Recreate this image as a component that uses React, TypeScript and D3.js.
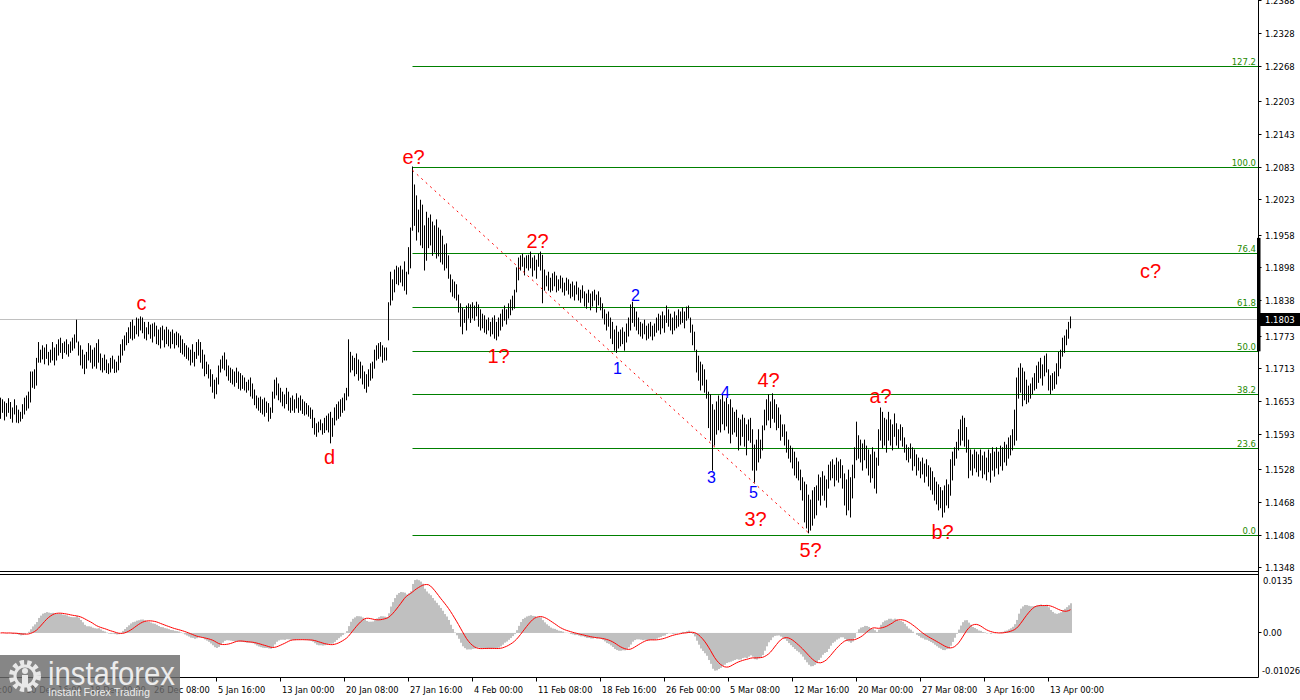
import React, { useEffect } from "react";
import * as d3 from "d3";

// Prices are stored as pips above 1.1000 (e.g. 808 -> 1.1808), one entry per H4 bar.
const PIP_BASE = 1.1;
const highPips = [
  659,656,652,649,658,651,641,656,645,637,
  633,647,659,663,670,707,707,711,732,761,
  747,755,751,757,743,747,761,751,757,766,
  769,759,762,766,757,762,769,775,802,762,
  755,747,738,743,759,755,747,751,759,766,
  740,732,738,729,722,732,736,729,725,736,
  757,766,773,779,788,798,802,791,806,804,
  808,806,798,788,798,793,795,797,791,784,
  788,791,784,789,784,780,784,777,780,777,
  773,766,759,755,751,747,757,743,761,766,
  761,747,738,725,720,711,702,692,696,718,
  729,736,742,729,718,714,711,707,714,707,
  704,700,696,688,692,696,685,674,663,659,
  661,656,659,652,649,641,670,692,696,685,
  677,670,665,677,670,659,663,656,667,659,
  663,656,652,649,645,641,637,622,612,615,
  619,612,622,626,630,633,622,641,647,652,
  656,659,667,677,766,743,736,732,740,729,
  725,718,707,702,711,722,725,747,755,759,
  761,755,751,751,834,890,876,894,901,898,
  901,894,909,890,935,971,1083,1050,1030,1004,
  1022,1013,975,1000,989,995,982,975,986,971,
  967,956,940,942,920,885,876,872,867,848,
  832,824,821,828,832,830,834,828,835,830,
  821,813,810,802,806,798,806,810,798,806,
  813,821,828,821,832,839,846,857,898,916,
  920,923,916,920,921,927,916,920,912,923,
  927,921,894,883,890,879,887,890,883,876,
  883,879,870,879,876,868,872,865,872,861,
  857,865,854,850,857,850,854,857,848,854,
  843,832,821,813,817,806,798,784,791,780,
  784,788,780,795,806,830,835,824,817,806,
  798,795,802,791,795,798,791,795,806,813,
  810,817,810,828,821,813,806,817,810,821,
  817,824,817,826,828,806,793,780,747,736,
  725,720,711,692,670,665,647,637,652,663,
  656,665,652,659,647,656,641,633,637,622,
  619,628,622,610,619,622,601,573,582,601,
  582,608,637,656,665,652,667,656,647,641,
  628,610,610,597,582,571,567,560,549,542,
  527,513,505,500,481,472,489,495,498,518,
  513,524,516,509,536,542,546,536,549,542,
  546,535,520,509,527,513,536,568,615,590,
  582,575,582,571,564,555,568,560,549,601,
  641,633,622,619,633,619,610,630,612,601,
  610,605,586,573,568,575,568,564,555,549,
  542,549,538,546,535,531,524,513,505,500,
  495,489,498,509,500,546,560,568,578,601,
  619,626,622,605,582,564,555,564,560,555,
  564,553,560,549,564,557,568,560,568,560,
  571,568,578,573,586,590,601,637,696,714,
  722,714,707,692,681,685,696,704,718,725,
  732,720,736,740,711,700,704,707,722,743,
  747,769,773,784,798,808,
];
const lowPips = [
  622,633,619,626,633,622,615,630,615,614,
  617,622,630,637,641,652,679,677,683,725,
  725,731,722,732,720,725,729,720,729,738,
  743,732,743,740,736,743,747,751,762,738,
  720,714,704,714,729,725,714,718,714,725,
  711,707,711,706,704,707,714,706,707,711,
  725,738,747,757,761,769,766,769,777,773,
  784,779,769,766,777,769,762,773,759,757,
  751,766,753,759,755,751,759,751,757,753,
  743,740,736,732,729,720,725,718,732,738,
  725,714,700,704,696,681,670,659,667,685,
  707,714,711,700,692,688,685,681,688,677,
  674,677,674,670,674,663,659,647,641,637,
  633,630,626,633,617,622,633,659,665,656,
  652,645,641,649,637,633,637,633,641,633,
  637,631,628,630,626,622,605,593,589,597,
  601,593,596,601,597,577,589,610,619,622,
  626,633,637,656,663,707,711,700,704,692,
  696,685,677,670,681,692,696,714,729,732,
  736,725,729,729,766,830,839,854,869,867,
  872,865,857,850,887,898,967,976,949,964,
  940,935,894,912,935,940,921,927,916,920,
  909,905,894,898,879,854,846,843,839,817,
  791,777,798,784,806,798,806,802,810,791,
  784,788,780,777,784,773,777,769,766,773,
  784,791,802,795,806,812,821,824,854,876,
  894,901,885,898,894,898,883,894,879,901,
  894,834,857,865,857,854,857,865,854,857,
  861,854,848,857,850,843,846,839,850,839,
  835,843,828,824,835,821,828,839,817,830,
  821,806,795,784,791,769,759,747,743,751,
  755,759,747,762,773,784,798,791,784,777,
  773,769,777,766,769,773,766,773,780,784,
  777,788,780,798,791,784,777,784,788,791,
  795,798,788,802,806,780,757,747,707,692,
  674,683,670,659,605,582,527,573,593,601,
  597,612,601,608,595,577,593,597,589,564,
  573,589,571,555,582,578,527,505,527,542,
  549,564,601,610,619,605,622,615,601,605,
  582,589,573,560,549,542,531,518,513,509,
  491,472,432,421,412,417,426,439,445,472,
  463,481,472,459,494,509,513,498,509,505,
  513,494,463,445,454,441,476,513,546,549,
  542,527,546,531,518,505,513,494,485,536,
  582,568,573,560,582,573,564,589,573,568,
  582,571,560,546,542,549,527,535,518,527,
  513,520,505,516,498,491,483,472,465,454,
  458,441,450,463,458,481,509,536,549,564,
  573,582,571,560,513,527,518,531,524,516,
  527,513,520,509,524,505,527,516,531,520,
  535,527,542,536,549,555,564,573,582,659,
  670,645,656,649,652,659,667,674,677,688,
  696,683,700,707,674,667,674,677,685,700,
  714,736,743,757,769,788,
];

const lastPrice = 1.1803;
const priceTicks = [
  "1.2388","1.2328","1.2268","1.2203","1.2143","1.2083","1.2023","1.1958","1.1898",
  "1.1838","1.1773","1.1713","1.1653","1.1593","1.1528","1.1468","1.1408","1.1348",
];
const timeLabelBars = [-20, 12, 44, 76, 108, 140, 172, 204, 236, 268, 300, 332, 364, 396, 428, 460, 492, 524];
const timeLabelTexts = [
  "3 Dec 08:00","10 Dec 16:00","18 Dec 00:00","26 Dec 08:00","5 Jan 16:00","13 Jan 00:00",
  "20 Jan 08:00","27 Jan 16:00","4 Feb 00:00","11 Feb 08:00","18 Feb 16:00","26 Feb 00:00",
  "5 Mar 08:00","12 Mar 16:00","20 Mar 00:00","27 Mar 08:00","3 Apr 16:00","13 Apr 00:00",
];

// Fibonacci grid
const fibLow = 1.1408;
const fibHigh = 1.2083;
const fibStartBar = 206;
const fibLevels = [0, 23.6, 38.2, 50, 61.8, 76.4, 100, 127.2];
const fibLabels = ["0.0", "23.6", "38.2", "50.0", "61.8", "76.4", "100.0", "127.2"];

// dotted trend line e? -> 5?
const trendBars = [206, 404];
const trendPrices = [1.2077, 1.1412];

// wave labels: bar index, price, text
const redWaveBars = [70.5, 164.5, 206.5, 249, 268.5, 377.5, 384, 405, 440, 471, 575];
const redWavePrices = [1.1834, 1.1551, 1.2101, 1.1736, 1.1947, 1.1438, 1.1692, 1.1381, 1.1663, 1.1413, 1.1892];
const redWaveTexts = ["c", "d", "e?", "1?", "2?", "3?", "4?", "5?", "a?", "b?", "c?"];
const blueWaveBars = [308.5, 317.5, 355.5, 362.5, 376.5];
const blueWavePrices = [1.1714, 1.1848, 1.1513, 1.1669, 1.1486];
const blueWaveTexts = ["1", "2", "3", "4", "5"];

// thick marker on price scale
const scaleMarkPrices = [1.1953, 1.1745];

// MACD settings and window range
const macdFast = 8;
const macdSlow = 34;
const macdSignal = 9;
const macdTop = 0.0135;
const macdBottom = -0.01026;

const W = 1300;
const H = 700;
const AXIS_X = 1258.5;
const MAIN_BOTTOM = 571.5;
const SUB_TOP = 574.5;
const SUB_BOTTOM = 677.5;
const AXIS_FONT = "'DejaVu Sans', Verdana, sans-serif";
const LABEL_FONT = "'Liberation Sans', Arial, sans-serif";

function ema(arr: number[], n: number) {
  const k = 2 / (n + 1);
  const out: number[] = [];
  let prev = arr[0];
  arr.forEach((v, i) => {
    prev = i === 0 ? v : v * k + prev * (1 - k);
    out.push(prev);
  });
  return out;
}

export default function App() {
  useEffect(() => {
    document.body.style.margin = "0";
  }, []);

  const n = Math.min(highPips.length, lowPips.length);
  const highs = highPips.slice(0, n).map((v) => PIP_BASE + v / 10000);
  const lows = lowPips.slice(0, n).map((v) => PIP_BASE + v / 10000);
  const closes = highs.map((h, i) => (h + lows[i]) / 2);

  const eF = ema(closes, macdFast);
  const eS = ema(closes, macdSlow);
  const macd = eF.map((v, i) => v - eS[i]);
  const signal = macd.map((_, i) => {
    const s = Math.max(0, i - (macdSignal - 1));
    return d3.mean(macd.slice(s, i + 1)) as number;
  });

  const xs = d3.scaleLinear().domain([0, 535]).range([0.5, 1070.5]);
  const ys = d3.scaleLinear().domain([fibLow, fibHigh]).range([535, 167]);
  const ym = d3.scaleLinear().domain([macdBottom, macdTop]).range([677, 575]);

  const crisp = (v: number) => Math.round(v - 0.5) + 0.5;

  const trendLine = `M${xs(trendBars[0])},${ys(trendPrices[0])}L${xs(trendBars[1])},${ys(trendPrices[1])}`;

  const signalPath = d3
    .line<number>()
    .x((_, i) => xs(i))
    .y((d) => ym(d))(signal) as string;

  const lastY = crisp(ys(lastPrice));

  return (
    <svg
      width={W}
      height={H}
      viewBox={`0 0 ${W} ${H}`}
      style={{ position: "absolute", left: 0, top: 0, display: "block", background: "#fff" }}
    >
      <defs>
        <clipPath id="mainClip">
          <rect x={0} y={0} width={AXIS_X} height={MAIN_BOTTOM} />
        </clipPath>
        <clipPath id="subClip">
          <rect x={0} y={SUB_TOP + 0.5} width={AXIS_X} height={SUB_BOTTOM - SUB_TOP - 1} />
        </clipPath>
      </defs>
      <rect x={0} y={0} width={W} height={H} fill="#fff" />

      {/* main price panel */}
      <g clipPath="url(#mainClip)">
        <line x1={0} x2={AXIS_X} y1={lastY} y2={lastY} stroke="#c0c0c0" strokeWidth={1} />
        {fibLevels.map((lv, i) => {
          const p = fibLow + ((fibHigh - fibLow) * lv) / 100;
          const y = crisp(ys(p));
          return (
            <g key={"fib" + i}>
              <line x1={xs(fibStartBar)} x2={AXIS_X} y1={y} y2={y} stroke="#008000" strokeWidth={1} />
              <text x={1256} y={y - 2} textAnchor="end" fontFamily={AXIS_FONT} fontSize={8.5} fill="#1f8a00">
                {fibLabels[i]}
              </text>
            </g>
          );
        })}
        {highs.map((h, i) => (
          <line
            key={"b" + i}
            x1={xs(i)}
            x2={xs(i)}
            y1={ys(h) - 0.5}
            y2={ys(lows[i]) + 0.5}
            stroke="#000"
            strokeWidth={1}
          />
        ))}
        <path d={trendLine} stroke="#ff0000" strokeWidth={1} strokeDasharray="2,4" fill="none" />
        {redWaveTexts.map((t, i) => (
          <text
            key={"rw" + i}
            x={xs(redWaveBars[i])}
            y={ys(redWavePrices[i])}
            textAnchor="middle"
            dominantBaseline="central"
            fontFamily={LABEL_FONT}
            fontSize={20}
            fill="#ff0000"
          >
            {t}
          </text>
        ))}
        {blueWaveTexts.map((t, i) => (
          <text
            key={"bw" + i}
            x={xs(blueWaveBars[i])}
            y={ys(blueWavePrices[i])}
            textAnchor="middle"
            dominantBaseline="central"
            fontFamily={LABEL_FONT}
            fontSize={16}
            fill="#0000ff"
          >
            {t}
          </text>
        ))}
      </g>

      {/* MACD panel */}
      <g clipPath="url(#subClip)">
        {macd.map((v, i) => {
          const y0 = ym(0);
          const y1 = ym(v);
          return (
            <rect
              key={"m" + i}
              x={xs(i) - 0.5}
              y={Math.min(y0, y1)}
              width={2}
              height={Math.abs(y1 - y0)}
              fill="#c0c0c0"
            />
          );
        })}
        <path d={signalPath} stroke="#ff0000" strokeWidth={1} fill="none" />
      </g>

      {/* frames */}
      <line x1={0} x2={AXIS_X} y1={MAIN_BOTTOM} y2={MAIN_BOTTOM} stroke="#000" />
      <line x1={0} x2={AXIS_X} y1={SUB_TOP} y2={SUB_TOP} stroke="#000" />
      <line x1={0} x2={AXIS_X} y1={SUB_BOTTOM} y2={SUB_BOTTOM} stroke="#000" />
      <line x1={AXIS_X} x2={AXIS_X} y1={0} y2={SUB_BOTTOM} stroke="#000" />
      <rect
        x={AXIS_X - 1.5}
        y={ys(scaleMarkPrices[0])}
        width={3.5}
        height={ys(scaleMarkPrices[1]) - ys(scaleMarkPrices[0])}
        fill="#000"
      />

      {/* price axis */}
      {priceTicks.map((t) => {
        const y = crisp(ys(+t));
        return (
          <g key={"pt" + t}>
            <line x1={AXIS_X} x2={AXIS_X + 3} y1={y} y2={y} stroke="#000" />
            <text x={1265} y={y} dominantBaseline="central" fontFamily={AXIS_FONT} fontSize={8.5} fill="#000">
              {t}
            </text>
          </g>
        );
      })}
      <rect x={1259} y={lastY - 6.5} width={41} height={13} fill="#000" />
      <text x={1265} y={lastY} dominantBaseline="central" fontFamily={AXIS_FONT} fontSize={8.5} fill="#fff">
        {lastPrice.toFixed(4)}
      </text>

      {/* MACD axis */}
      <text x={1263} y={ym(macdTop) + 6} dominantBaseline="central" fontFamily={AXIS_FONT} fontSize={8.5} fill="#000">
        {macdTop.toFixed(4)}
      </text>
      <line x1={AXIS_X} x2={AXIS_X + 3} y1={crisp(ym(0))} y2={crisp(ym(0))} stroke="#000" />
      <text x={1263} y={ym(0)} dominantBaseline="central" fontFamily={AXIS_FONT} fontSize={8.5} fill="#000">
        0.00
      </text>
      <text x={1262} y={ym(macdBottom) - 6} dominantBaseline="central" fontFamily={AXIS_FONT} fontSize={8.5} fill="#000">
        {macdBottom.toFixed(5)}
      </text>

      {/* time axis */}
      {timeLabelBars.map((b, i) => {
        const x = crisp(xs(b));
        return (
          <g key={"tl" + i}>
            <line x1={x} x2={x} y1={SUB_BOTTOM} y2={SUB_BOTTOM + 4} stroke="#000" />
            <text x={x + 1.5} y={693} fontFamily={AXIS_FONT} fontSize={8.3} fill="#000">
              {timeLabelTexts[i]}
            </text>
          </g>
        );
      })}

      {/* watermark */}
      <g>
        <rect x={0} y={655} width={180} height={45} fill="#6b6b6b" opacity={0.82} />
        <circle cx={25} cy={676} r={13} fill="none" stroke="#e8e8e8" strokeWidth={6} strokeDasharray="4,3" />
        <circle cx={25} cy={676} r={10} fill="none" stroke="#e8e8e8" strokeWidth={3} />
        <circle cx={25} cy={671} r={3} fill="#e8e8e8" />
        <rect x={22} y={675} width={6} height={12} fill="#e8e8e8" />
        <text x={48} y={685} fontFamily={LABEL_FONT} fontSize={34} fill="#ececec" textLength={127} lengthAdjust="spacingAndGlyphs">
          instaforex
        </text>
        <text x={48} y={696} fontFamily={LABEL_FONT} fontSize={11} fill="#ececec" textLength={102} lengthAdjust="spacingAndGlyphs">
          Instant Forex Trading
        </text>
      </g>
    </svg>
  );
}
